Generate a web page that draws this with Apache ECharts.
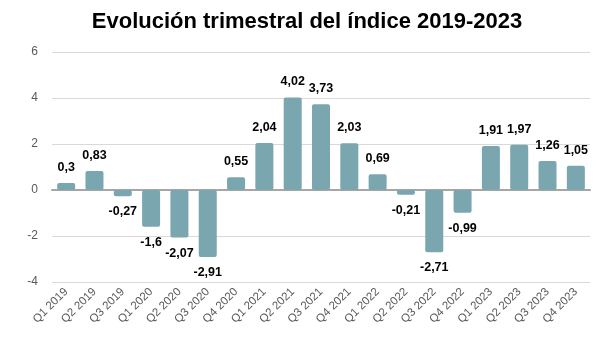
<!DOCTYPE html>
<html><head><meta charset="utf-8">
<script src="https://cdn.jsdelivr.net/npm/echarts@6/dist/echarts.min.js"></script>
<style>html,body{margin:0;padding:0;background:#fff}#c{width:614px;height:339px}</style>
</head><body><div id="c"></div>
<script>
const categories = ["Q1 2019","Q2 2019","Q3 2019","Q1 2020","Q2 2020","Q3 2020","Q4 2020","Q1 2021","Q2 2021","Q3 2021","Q4 2021","Q1 2022","Q2 2022","Q3 2022","Q4 2022","Q1 2023","Q2 2023","Q3 2023","Q4 2023"];
const values = [0.3,0.83,-0.27,-1.6,-2.07,-2.91,0.55,2.04,4.02,3.73,2.03,0.69,-0.21,-2.71,-0.99,1.91,1.97,1.26,1.05];
const yTicks = [-4,-2,0,2,4,6];
const titleText = "Evolución trimestral del índice 2019-2023";

const chart = echarts.init(document.getElementById('c'), null, {renderer:'canvas'});
chart.setOption({
  animation:false,
  title:{text:titleText,left:'center',top:6,textStyle:{fontFamily:'Liberation Sans',fontSize:22,fontWeight:'bold',color:'#000'}},
  grid:{left:52,right:24,top:52,bottom:57},
  xAxis:{type:'category',data:categories,
    axisLine:{lineStyle:{color:'#a6a6a6',width:2}},axisTick:{show:false},
    axisLabel:{rotate:45,interval:0,color:'#595959',fontFamily:'Liberation Sans',fontSize:11.5,margin:8}},
  yAxis:{type:'value',min:yTicks[0],max:yTicks[yTicks.length-1],interval:2,
    axisLine:{show:false},axisTick:{show:false},
    splitLine:{lineStyle:{color:'#d9d9d9',width:1}},
    axisLabel:{color:'#595959',fontFamily:'Liberation Sans',fontSize:12,margin:14}},
  series:[{type:'bar',barWidth:18,
    data:values.map(v=>({value:v,label:{position:v<0?'bottom':'top'}})),
    itemStyle:{color:'#79a6af',borderRadius:2},
    label:{show:true,distance:9,color:'#000',fontFamily:'Liberation Sans',fontSize:12.5,fontWeight:'bold',
      formatter:p=>String(p.value).replace('.',',')}}]
});
</script></body></html>
